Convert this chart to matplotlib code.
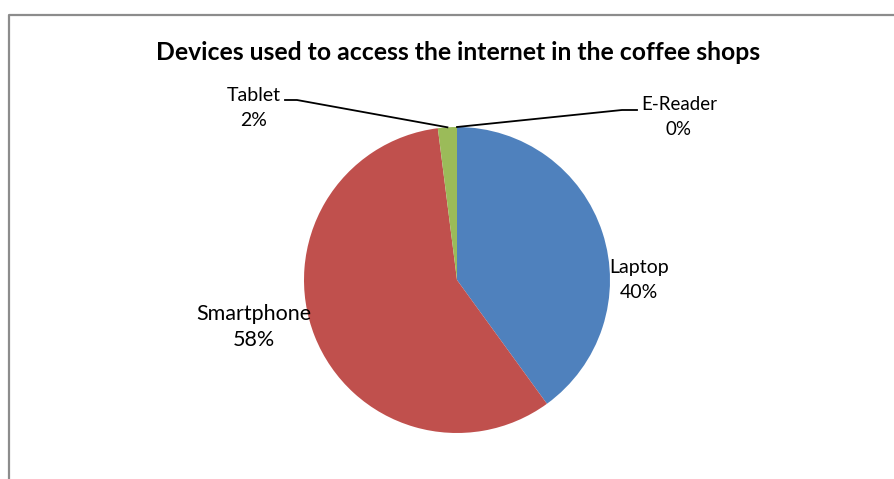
import numpy as np
from matplotlib import pyplot as plt

# Share of devices used in the coffee shops
devices = ['Laptop', 'Smartphone', 'Tablet', 'E-Reader']
shares = [40, 58, 2, 0]
colors = ['#4F81BD', '#C0504D', '#9BBB59', '#8064A2']

W, H = 894, 479
fig = plt.figure(figsize=(W / 100, H / 100), dpi=100)
ax = fig.add_axes([0, 0, 1, 1])

# chart area border (left and top edges visible)
ax.plot([8.5, 8.5, W + 5], [-5, H - 14.5, H - 14.5], color='#8c8c8c', lw=1.6, solid_capstyle='butt')

center = (457, H - 280)
radius = 153
ax.pie(shares, colors=colors, startangle=90, counterclock=False,
       center=center, radius=radius, frame=True,
       wedgeprops=dict(linewidth=0))
ax.set_xlim(0, W)
ax.set_ylim(0, H)
ax.set_aspect('equal')
ax.axis('off')

font = 'Lato'
ax.text(458, H - 52, 'Devices used to access the internet in the coffee shops',
        ha='center', va='center', fontsize=17.8, fontweight='bold', family=font)

total = sum(shares)
label_pos = {
    'Laptop': (639, H - 280),
    'Smartphone': (254, H - 327),
    'Tablet': (254, H - 108),
    'E-Reader': (679, H - 117),
}
sizes = {'Laptop': 14, 'Smartphone': 15.5, 'Tablet': 14, 'E-Reader': 13.5}
spacing = {'Laptop': 1.55, 'Smartphone': 1.4, 'Tablet': 1.55, 'E-Reader': 1.6}
for name, val in zip(devices, shares):
    x, y = label_pos[name]
    ax.text(x, y, f'{name}\n{val / total:.0%}', ha='center', va='center',
            fontsize=sizes[name], family=font, linespacing=spacing[name])

# leader lines from the small slices to their labels
cum = np.cumsum([0] + shares) / total
for name, knee, end in [('Tablet', (297, H - 100), (285, H - 100)),
                        ('E-Reader', (622, H - 110), (637, H - 110))]:
    i = devices.index(name)
    mid = (cum[i] + cum[i + 1]) / 2
    ang = np.deg2rad(90 - 360 * mid)
    px = center[0] + radius * np.cos(ang)
    py = center[1] + radius * np.sin(ang)
    ax.plot([px, knee[0], end[0]], [py, knee[1], end[1]], color='black', lw=1.3)

fig.savefig('out.png', dpi=100)
